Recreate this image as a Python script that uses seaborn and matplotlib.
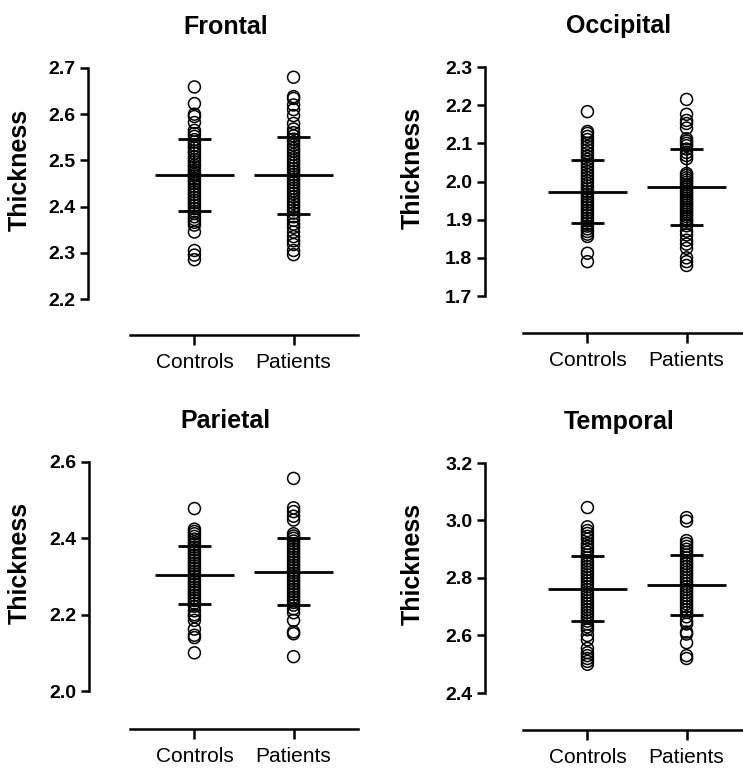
import matplotlib
matplotlib.use("Agg")
import matplotlib.pyplot as plt
import seaborn as sns
import pandas as pd

sns.set_style("white")
plt.rcParams['font.family'] = ['Liberation Sans', 'DejaVu Sans']
plt.rcParams['text.color'] = 'black'
plt.rcParams['axes.labelcolor'] = 'black'
plt.rcParams['xtick.color'] = 'black'
plt.rcParams['ytick.color'] = 'black'

groups = ["Controls", "Patients"]
regions = ["Frontal", "Occipital", "Parietal", "Temporal"]

frontal_controls = [2.659, 2.623, 2.600, 2.595, 2.582, 2.565, 2.558, 2.552, 2.545, 2.540, 2.533, 2.527,
                    2.520, 2.515, 2.508, 2.502, 2.497, 2.490, 2.486, 2.480, 2.475, 2.470, 2.466, 2.460,
                    2.455, 2.450, 2.444, 2.438, 2.432, 2.426, 2.420, 2.414, 2.408, 2.402, 2.396, 2.390,
                    2.385, 2.378, 2.372, 2.366, 2.360, 2.345, 2.305, 2.295, 2.285]
frontal_patients = [2.680, 2.638, 2.634, 2.620, 2.610, 2.597, 2.580, 2.568, 2.560, 2.553, 2.546, 2.540,
                    2.533, 2.526, 2.520, 2.513, 2.506, 2.500, 2.494, 2.488, 2.482, 2.476, 2.470, 2.464,
                    2.458, 2.452, 2.446, 2.440, 2.434, 2.428, 2.421, 2.414, 2.407, 2.400, 2.393, 2.386,
                    2.378, 2.370, 2.362, 2.355, 2.345, 2.335, 2.326, 2.318, 2.305, 2.296]
occipital_controls = [2.183, 2.131, 2.126, 2.118, 2.110, 2.100, 2.092, 2.083, 2.075, 2.066, 2.058, 2.050,
                      2.042, 2.034, 2.026, 2.018, 2.010, 2.002, 1.995, 1.988, 1.981, 1.974, 1.967, 1.960,
                      1.953, 1.946, 1.939, 1.932, 1.925, 1.918, 1.911, 1.904, 1.897, 1.890, 1.883, 1.876,
                      1.869, 1.862, 1.856, 1.812, 1.790]
occipital_patients = [2.215, 2.176, 2.160, 2.152, 2.140, 2.112, 2.106, 2.100, 2.094, 2.085, 2.076, 2.068,
                      2.060, 2.021, 2.016, 2.010, 2.004, 1.998, 1.992, 1.986, 1.980, 1.974, 1.968, 1.962,
                      1.956, 1.950, 1.944, 1.938, 1.932, 1.926, 1.920, 1.914, 1.908, 1.902, 1.896, 1.890,
                      1.884, 1.870, 1.860, 1.846, 1.836, 1.825, 1.800, 1.790, 1.780]
parietal_controls = [2.478, 2.424, 2.418, 2.412, 2.405, 2.398, 2.391, 2.384, 2.377, 2.370, 2.363, 2.356,
                     2.349, 2.342, 2.335, 2.328, 2.321, 2.314, 2.307, 2.300, 2.293, 2.286, 2.279, 2.272,
                     2.265, 2.258, 2.251, 2.244, 2.237, 2.230, 2.222, 2.210, 2.200, 2.195, 2.185, 2.162,
                     2.146, 2.140, 2.100]
parietal_patients = [2.557, 2.480, 2.470, 2.458, 2.448, 2.412, 2.406, 2.400, 2.393, 2.386, 2.379, 2.372,
                     2.365, 2.358, 2.351, 2.344, 2.337, 2.330, 2.323, 2.316, 2.309, 2.302, 2.295, 2.288,
                     2.281, 2.274, 2.267, 2.260, 2.253, 2.246, 2.239, 2.232, 2.225, 2.215, 2.205, 2.185,
                     2.155, 2.150, 2.090]
temporal_controls = [3.045, 2.978, 2.965, 2.955, 2.945, 2.935, 2.920, 2.910, 2.900, 2.890, 2.880, 2.870,
                     2.860, 2.850, 2.840, 2.830, 2.820, 2.810, 2.800, 2.790, 2.780, 2.770, 2.760, 2.750,
                     2.740, 2.730, 2.720, 2.710, 2.700, 2.690, 2.680, 2.670, 2.660, 2.650, 2.640, 2.630,
                     2.620, 2.600, 2.585, 2.555, 2.540, 2.530, 2.520, 2.510, 2.500]
temporal_patients = [3.010, 2.998, 2.930, 2.920, 2.910, 2.900, 2.890, 2.880, 2.870, 2.860, 2.850, 2.840,
                     2.830, 2.820, 2.810, 2.800, 2.790, 2.780, 2.770, 2.760, 2.750, 2.740, 2.730, 2.720,
                     2.710, 2.700, 2.690, 2.680, 2.665, 2.650, 2.640, 2.612, 2.605, 2.575, 2.530, 2.520]

# mean and SD per region: [Controls, Patients]
means = {"Frontal": [2.468, 2.468], "Occipital": [1.973, 1.986],
         "Parietal": [2.305, 2.313], "Temporal": [2.763, 2.775]}
sds = {"Frontal": [0.078, 0.083], "Occipital": [0.083, 0.100],
       "Parietal": [0.076, 0.087], "Temporal": [0.114, 0.105]}

ylims = {"Frontal": (2.2, 2.7), "Occipital": (1.7, 2.3), "Parietal": (2.0, 2.6), "Temporal": (2.4, 3.2)}
yticks = {"Frontal": [2.2, 2.3, 2.4, 2.5, 2.6, 2.7], "Occipital": [1.7, 1.8, 1.9, 2.0, 2.1, 2.2, 2.3],
          "Parietal": [2.0, 2.2, 2.4, 2.6], "Temporal": [2.4, 2.6, 2.8, 3.0, 3.2]}
ytick_labels = {"Frontal": ["2.2", "2.3", "2.4", "2.5", "2.6", "2.7"],
                "Occipital": ["1.7", "1.8", "1.9", "2.0", "2.1", "2.2", "2.3"],
                "Parietal": ["2.0", "2.2", "2.4", "2.6"],
                "Temporal": ["2.4", "2.6", "2.8", "3.0", "3.2"]}
values = {"Frontal": (frontal_controls, frontal_patients),
          "Occipital": (occipital_controls, occipital_patients),
          "Parietal": (parietal_controls, parietal_patients),
          "Temporal": (temporal_controls, temporal_patients)}

W, H = 743, 771
fig = plt.figure(figsize=(W / 100, H / 100), dpi=100)

# pixel boxes: left, right, top, bottom, left-spine offset px, bottom-spine offset px
boxes = {"Frontal": (130, 358, 68, 299, 42, 36),
         "Occipital": (523, 751, 67, 296, 38, 37),
         "Parietal": (130, 358, 462, 691, 41, 38),
         "Temporal": (523, 751, 463, 693, 38, 37)}

PX = 0.72
for reg in regions:
    l, r, t, b, lo, bo = boxes[reg]
    ax = fig.add_axes([l / W, 1 - b / H, (r - l) / W, (b - t) / H])
    c, p = values[reg]
    df = pd.DataFrame({"Group": ["Controls"] * len(c) + ["Patients"] * len(p),
                       "Thickness": list(c) + list(p)})
    sns.stripplot(data=df, x="Group", y="Thickness", order=groups, jitter=False,
                  ax=ax, s=8.6, marker="o", facecolors="none", edgecolor="black",
                  linewidth=1.1, color="black", zorder=2)
    for coll in ax.collections:
        coll.set_facecolor("none")
        coll.set_edgecolor("black")
    for i in range(2):
        m, s = means[reg][i], sds[reg][i]
        ax.hlines(m, i - 0.40, i + 0.40, color="black", lw=2.0, zorder=3)
        ax.hlines([m - s, m + s], i - 0.17, i + 0.17, color="black", lw=2.0, zorder=3)
        ax.vlines(i, m - s, m + s, color="black", lw=1.2, zorder=3)
    for side in ["top", "right"]:
        ax.spines[side].set_visible(False)
    ax.spines["left"].set_position(("outward", lo * PX))
    ax.spines["bottom"].set_position(("outward", bo * PX))
    for side in ["left", "bottom"]:
        ax.spines[side].set_linewidth(1.8)
        ax.spines[side].set_color("black")
    ax.set_xlim(-0.65, 1.65)
    ax.set_ylim(*ylims[reg])
    ax.set_yticks(yticks[reg])
    ax.set_yticklabels(ytick_labels[reg], fontweight="bold")
    ax.set_xticks([0, 1])
    ax.set_xticklabels(groups)
    ax.tick_params(axis="y", direction="out", length=6, width=1.8, pad=3, labelsize=14, left=True)
    ax.tick_params(axis="x", direction="out", length=7, width=1.8, pad=6, labelsize=15, bottom=True)
    for lab in ax.get_yticklabels():
        lab.set_fontweight("bold")
    ax.set_xlabel("")
    ax.set_ylabel("Thickness", fontsize=18, fontweight="bold")
    ax.yaxis.set_label_coords(-0.43, 0.56)
    ax.annotate(reg, xy=(0.42, 1.0), xycoords="axes fraction", xytext=(0, 41 * PX),
                textcoords="offset points", ha="center", va="center",
                fontsize=18, fontweight="bold")
    ax.set_facecolor("none")

fig.savefig("out.png", dpi=100)
